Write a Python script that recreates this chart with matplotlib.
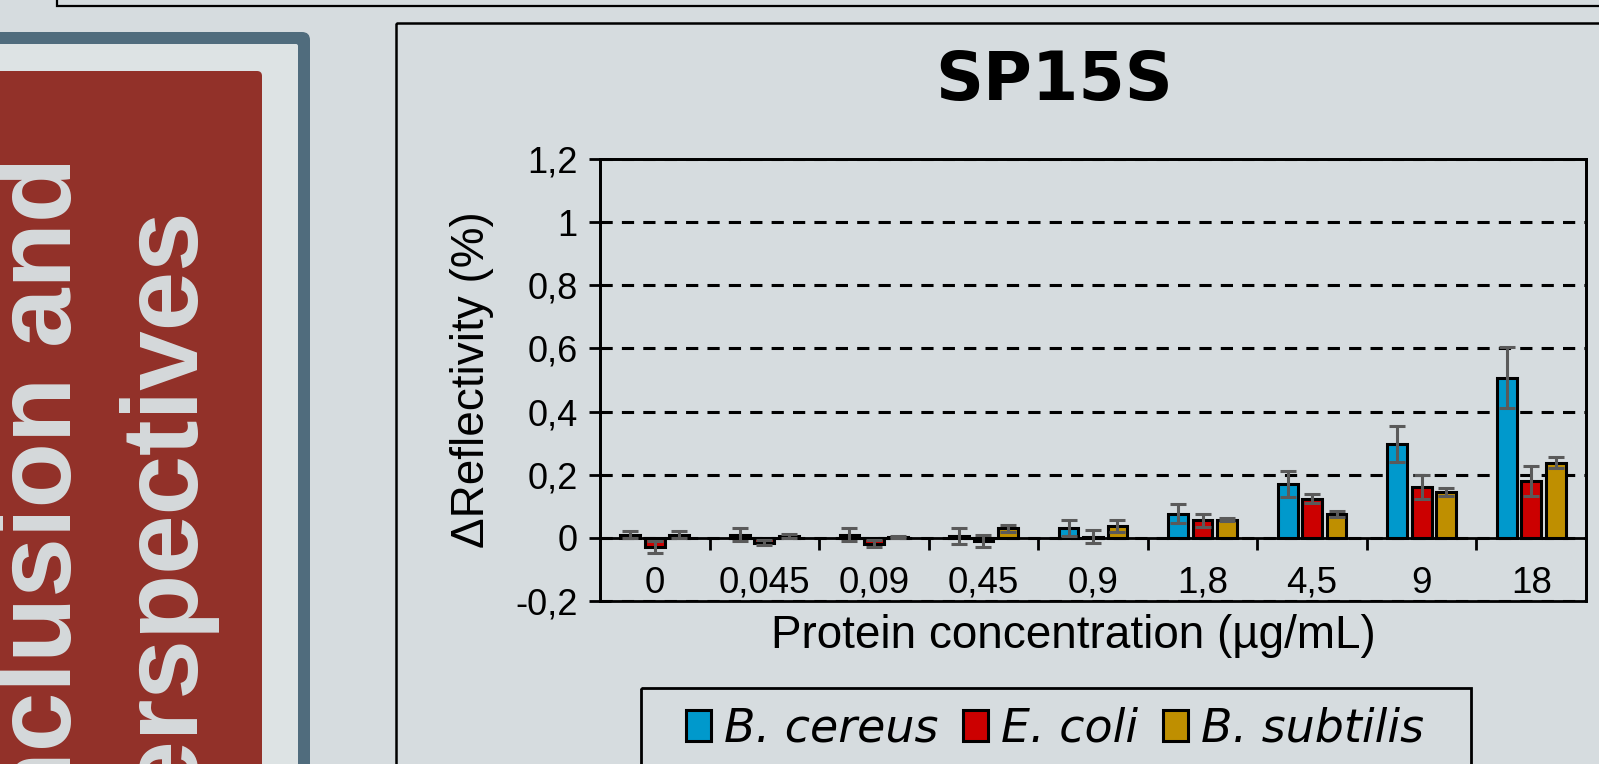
import matplotlib
matplotlib.use("Agg")
import matplotlib.pyplot as plt
from matplotlib.patches import Rectangle, FancyBboxPatch, Patch
from matplotlib.font_manager import FontProperties
import numpy as np

# data (SP15S)
categories = ["0", "0,045", "0,09", "0,45", "0,9", "1,8", "4,5", "9", "18"]
species = ["B. cereus", "E. coli", "B. subtilis"]
cereus = [0.010, 0.010, 0.010, 0.007, 0.030, 0.076, 0.171, 0.297, 0.507]
cereus_err = [0.012, 0.021, 0.021, 0.025, 0.025, 0.030, 0.042, 0.057, 0.096]
coli = [-0.030, -0.015, -0.018, -0.010, 0.004, 0.055, 0.124, 0.162, 0.180]
coli_err = [0.019, 0.008, 0.010, 0.020, 0.021, 0.020, 0.015, 0.038, 0.048]
subtilis = [0.010, 0.005, 0.004, 0.030, 0.037, 0.057, 0.076, 0.144, 0.238]
subtilis_err = [0.012, 0.007, 0.003, 0.012, 0.018, 0.005, 0.010, 0.013, 0.018]
yticks = [-0.2, 0, 0.2, 0.4, 0.6, 0.8, 1.0, 1.2]
ytick_labels = ["-0,2", "0", "0,2", "0,4", "0,6", "0,8", "1", "1,2"]

colors = ["#0099CC", "#CC0000", "#BF8F00"]
bg = "#D6DCDF"
W, H = 1599, 764

plt.rcParams["font.family"] = ["Liberation Sans", "DejaVu Sans"]

fig = plt.figure(figsize=(W / 100, H / 100), dpi=100, facecolor=bg)

# page decoration, drawn in pixel coordinates
deco = fig.add_axes([0, 0, 1, 1], zorder=0)
deco.set_xlim(0, W)
deco.set_ylim(H, 0)
deco.axis("off")
deco.add_patch(Rectangle((57, -40), 1700, 46, fill=False, ec="black", lw=1.6))
deco.add_patch(FancyBboxPatch((-60, 32), 370, 900, boxstyle="round,pad=0,rounding_size=8",
                              fc="#506C7D", ec="none"))
deco.add_patch(FancyBboxPatch((-60, 44), 358, 900, boxstyle="round,pad=0,rounding_size=2",
                              fc="#DDE3E4", ec="none"))
deco.add_patch(FancyBboxPatch((-60, 71), 322, 900, boxstyle="round,pad=0,rounding_size=5",
                              fc="#923129", ec="none"))
deco.text(71, 157, "Conclusion and", rotation=90, rotation_mode="anchor", ha="right",
          va="baseline", fontsize=77, fontweight="bold", color="#D5DADC")
deco.text(191, 203, "perspectives", rotation=90, rotation_mode="anchor", ha="right",
          va="baseline", fontsize=77, fontweight="bold", color="#D5DADC")
deco.add_patch(Rectangle((396, 23), 1400, 900, fill=False, ec="black", lw=1.8))
deco.text(1054, 100, "SP15S", ha="center", va="baseline", fontsize=48,
          fontweight="bold", family="DejaVu Sans")
deco.add_patch(Rectangle((641, 688), 830, 200, fill=False, ec="black", lw=2))

# chart
ax = fig.add_axes([600 / W, 1 - 601 / H, 986 / W, 442 / H], zorder=1)
ax.set_facecolor(bg)
x = np.arange(len(categories))
width = 0.18
step = 0.223
series = [(cereus, cereus_err), (coli, coli_err), (subtilis, subtilis_err)]
for i, (vals, errs) in enumerate(series):
    ax.bar(x + (i - 1) * step, vals, width, yerr=errs, color=colors[i], edgecolor="black",
           linewidth=2.2, zorder=3,
           error_kw=dict(ecolor="#5A5A5A", elinewidth=2.2, capsize=6, capthick=2.2, zorder=4))

ax.set_xlim(-0.5, len(categories) - 0.5)
ax.set_ylim(-0.2, 1.2)
ax.set_yticks(yticks)
ax.set_yticklabels(ytick_labels)
ax.tick_params(axis="y", direction="inout", length=16, width=2, pad=8, labelsize=26)

ax.spines["bottom"].set_position(("data", 0))
for s in ax.spines.values():
    s.set_linewidth(2)
ax.add_patch(Rectangle((0, 0), 1, 1, transform=ax.transAxes, fill=False, ec="black",
                       lw=2, clip_on=False, zorder=5))

ax.set_xticks(np.arange(len(categories) + 1) - 0.5)
ax.set_xticklabels([])
ax.set_xticks(x, minor=True)
ax.set_xticklabels(categories, minor=True)
ax.tick_params(axis="x", which="major", direction="out", length=8.6, width=2)
ax.tick_params(axis="x", which="minor", length=0, pad=20, labelsize=26.5)

ax.grid(axis="y", color="black", lw=2.2, ls=(0, (4, 3)), zorder=1)
ax.set_axisbelow(True)

ax.set_xlabel("Protein concentration (µg/mL)", fontsize=33)
ax.xaxis.set_label_coords(0.48, -0.03)
ax.set_ylabel("ΔReflectivity (%)", fontsize=33)
ax.yaxis.set_label_coords(-0.1075, 0.5)

handles = [Patch(facecolor=c, edgecolor="black", linewidth=2.2) for c in colors]
fig.legend(handles, species, loc="center left", bbox_to_anchor=(686 / W, 1 - 729 / H),
           ncol=3, frameon=False, borderpad=0, borderaxespad=0, handlelength=0.55,
           handleheight=0.64, handletextpad=0.27, columnspacing=0.55,
           prop=FontProperties(family="DejaVu Sans", style="oblique", size=33))

fig.savefig("out.png", dpi=100, facecolor=bg)
